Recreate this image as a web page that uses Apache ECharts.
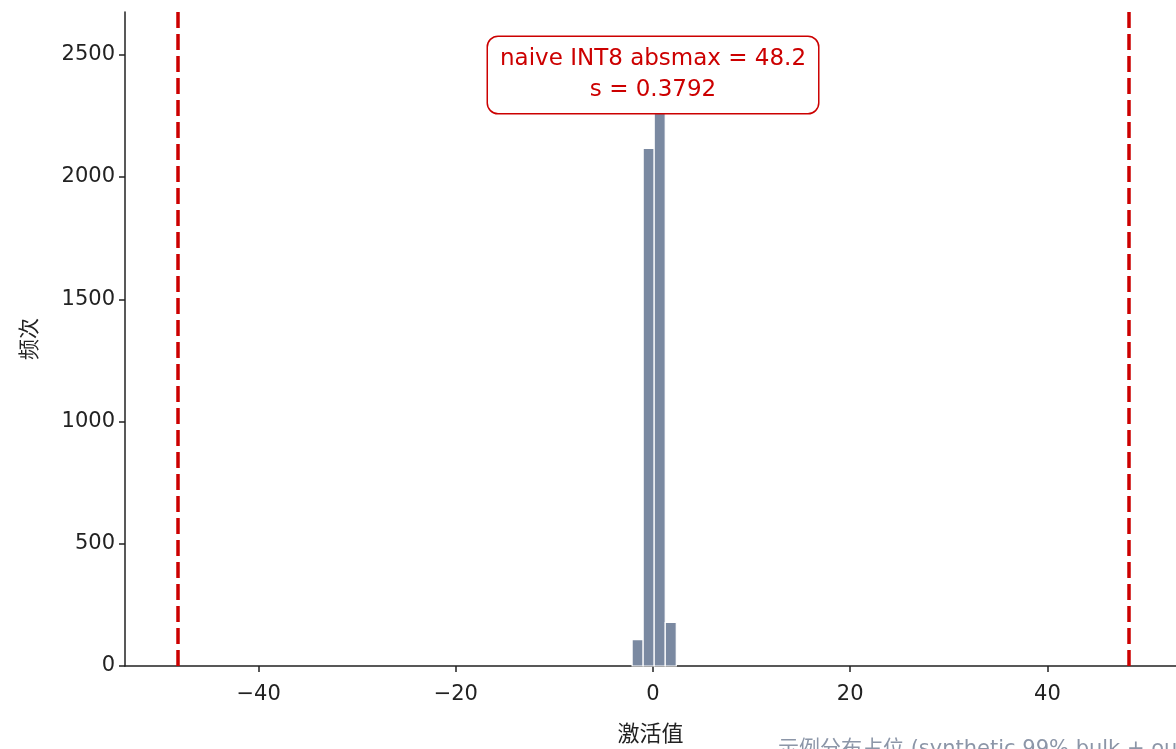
<!DOCTYPE html>
<html>
<head>
<meta charset="utf-8">
<script src="https://cdn.jsdelivr.net/npm/echarts@6/dist/echarts.min.js"></script>
<style>
  html, body { margin: 0; padding: 0; background: #fff; }
  #main { width: 1176px; height: 749px; }
</style>
</head>
<body>
<div id="main"></div>
<script>
// histogram bins: [start, end]
var binStarts = [-2.12, -1.0, 0.12, 1.24];
var binEnds = [-1.0, 0.12, 1.24, 2.36];
var binCounts = [108, 2117, 2550, 178];
var absmax = 48.2;
var scale = 0.3792;
var xTicks = [-40, -20, 0, 20, 40];
var yTicks = [0, 500, 1000, 1500, 2000, 2500];

var FONT = '"DejaVu Sans", "Noto Sans CJK SC", sans-serif';
var CJK = '"Noto Sans CJK SC", sans-serif';
var chart = echarts.init(document.getElementById('main'));

var binData = binStarts.map(function (s, i) {
    return [s, binEnds[i], binCounts[i]];
});

var option = {
    animation: false,
    grid: { left: 125, right: 0, top: 12, bottom: 80 },
    xAxis: {
        type: 'value',
        min: -53.55,
        max: 53.04,
        name: '激活值',
        nameLocation: 'middle',
        nameGap: 56,
        nameTextStyle: { fontFamily: CJK, fontSize: 22, color: '#222' },
        splitLine: { show: false },
        axisLine: { onZero: false, lineStyle: { color: '#222', width: 1.5 } },
        axisTick: { show: true, length: 6, customValues: xTicks, lineStyle: { color: '#222', width: 1.5 } },
        axisLabel: { customValues: xTicks, fontFamily: FONT, fontSize: 21, color: '#222', margin: 18,
            formatter: function (v) { return v < 0 ? '\u2212' + Math.abs(v) : String(v); } }
    },
    yAxis: {
        type: 'value',
        min: 0,
        max: 2675,
        name: '频次',
        nameLocation: 'middle',
        nameGap: 86,
        nameTextStyle: { fontFamily: CJK, fontSize: 21, color: '#222' },
        splitLine: { show: false },
        axisLine: { show: true, onZero: false, lineStyle: { color: '#222', width: 1.5 } },
        axisTick: { show: true, length: 6, customValues: yTicks, lineStyle: { color: '#222', width: 1.5 } },
        axisLabel: { customValues: yTicks, fontFamily: FONT, fontSize: 21, color: '#222', margin: 10,
            formatter: function (v) { return String(v); } }
    },
    series: [{
        type: 'custom',
        data: binData,
        encode: { x: [0, 1], y: 2 },
        renderItem: function (params, api) {
            var p0 = api.coord([api.value(0), api.value(2)]);
            var p1 = api.coord([api.value(1), 0]);
            return {
                type: 'rect',
                shape: { x: p0[0], y: p0[1], width: p1[0] - p0[0], height: p1[1] - p0[1] },
                style: { fill: '#7a89a1', stroke: '#fff', lineWidth: 1.2 }
            };
        },
        markLine: {
            silent: true,
            symbol: 'none',
            label: { show: false },
            lineStyle: { color: '#cc0000', width: 3.5, type: [16, 6] },
            data: [{ xAxis: -absmax }, { xAxis: absmax }]
        }
    }]
};
chart.setOption(option);

var center = chart.convertToPixel({ xAxisIndex: 0 }, 0);
chart.setOption({
    graphic: [{
        type: 'text',
        x: center,
        y: 37,
        z: 100,
        style: {
            text: 'naive INT8 absmax = ' + absmax + '\ns = ' + scale,
            align: 'center',
            verticalAlign: 'top',
            fill: '#cc0000',
            font: '23px ' + FONT,
            lineHeight: 31,
            backgroundColor: '#fff',
            borderColor: '#cc0000',
            borderWidth: 1.5,
            borderRadius: 10,
            padding: [7, 12, 7, 12]
        }
    }, {
        type: 'text',
        x: 778,
        y: 739,
        style: {
            text: '示例分布占位 (synthetic 99% bulk + outliers)',
            fill: '#8c96a8',
            font: '21px ' + FONT
        }
    }]
});
</script>
</body>
</html>
